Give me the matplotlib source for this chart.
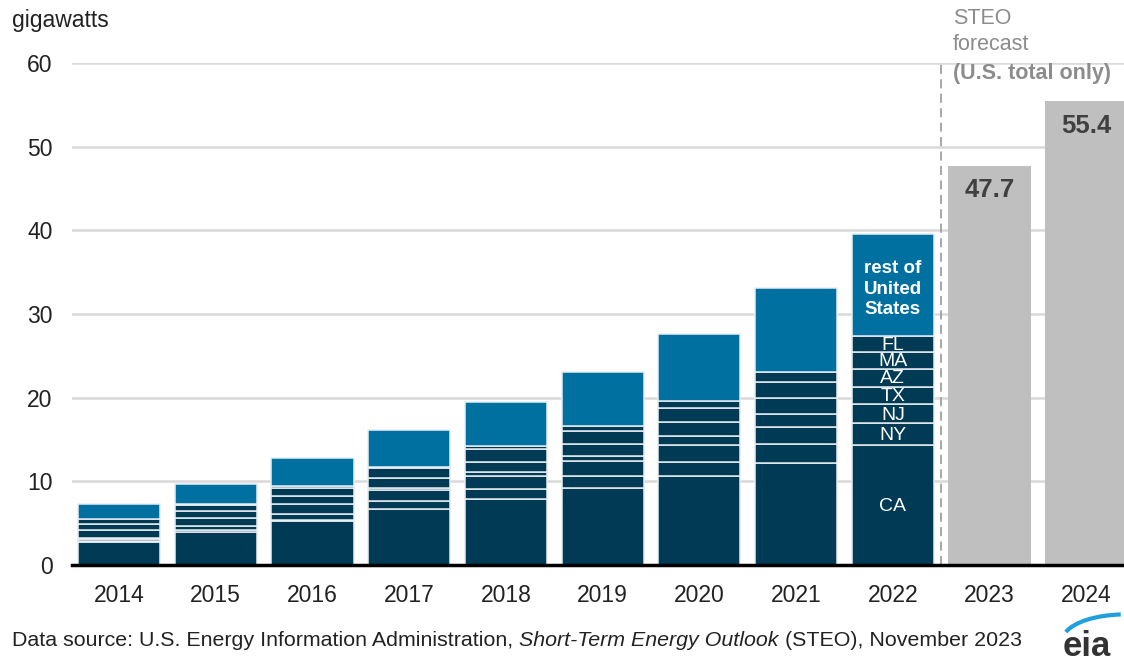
import numpy as np
import matplotlib.pyplot as plt
from matplotlib.patches import Arc

plt.rcParams['font.family'] = ['Liberation Sans', 'DejaVu Sans']

# data (gigawatts)
years = ['2014', '2015', '2016', '2017', '2018', '2019', '2020', '2021', '2022']
states = ['CA', 'NY', 'NJ', 'TX', 'AZ', 'MA', 'FL']
CA = [2.79, 3.94, 5.26, 6.73, 7.93, 9.16, 10.68, 12.23, 14.34]
NY = [0.11, 0.24, 0.12, 0.88, 1.19, 1.52, 1.67, 2.27, 2.59]
NJ = [0.17, 0.48, 0.75, 1.39, 1.56, 1.71, 2.03, 2.03, 2.27]
TX = [0.16, 0.96, 1.16, 0.24, 0.44, 0.68, 1.04, 1.47, 2.11]
AZ = [0.95, 0.80, 0.96, 1.12, 1.23, 1.43, 1.71, 2.00, 2.15]
MA = [0.72, 0.71, 0.99, 1.29, 1.55, 1.55, 1.67, 1.83, 2.04]
FL = [0.64, 0.20, 0.20, 0.10, 0.36, 0.60, 0.76, 1.27, 1.87]
rest = [1.71, 2.35, 3.31, 4.38, 5.18, 6.45, 8.01, 9.97, 12.19]

fc_years = ['2023', '2024']
fc_total = [47.7, 55.4]

dark = '#003a55'
blue = '#0070a0'
grey = '#bfbfbf'
txt = '#222222'

fig = plt.figure(figsize=(11.24, 6.63), dpi=100)
ax = fig.add_axes([72 / 1124, 1 - 565 / 663, 1 - 72 / 1124, (565 - 63) / 663])

x = np.arange(len(years))
w = 0.85
bottom = np.zeros(len(years))
for vals in [CA, NY, NJ, TX, AZ, MA, FL]:
    ax.bar(x, vals, w, bottom=bottom, color=dark, edgecolor='#e8eef2', linewidth=1.1, zorder=3)
    bottom += np.array(vals)
ax.bar(x, rest, w, bottom=bottom, color=blue, edgecolor='#e8eef2', linewidth=1.1, zorder=3)

xf = np.arange(len(years), len(years) + len(fc_years))
ax.bar(xf, fc_total, w, color=grey, zorder=3)
for xi, v in zip(xf, fc_total):
    ax.text(xi, v - 2.9, f'{v}', ha='center', va='center', fontsize=18.5,
            fontweight='bold', color='#404040', zorder=4)

# state labels on the 2022 bar
last = len(years) - 1
cum = 0
for name, vals in zip(states, [CA, NY, NJ, TX, AZ, MA, FL]):
    v = vals[last]
    ax.text(last, cum + v / 2 - 0.15, name, ha='center', va='center', color='white',
            fontsize=14, zorder=4)
    cum += v
ax.text(last, cum + rest[last] / 2 - 0.5, 'rest of\nUnited\nStates', ha='center', va='center',
        color='white', fontsize=13.5, fontweight='bold', linespacing=1.28, zorder=4)

# forecast divider
ax.plot([8.5, 8.5], [0, 60.2], ls=(0, (5, 3)), color='#a0a0a0', lw=1.3, zorder=2, clip_on=False)

ax.set_xlim(-0.486, 10.39)
ax.set_ylim(0, 60)
ax.set_yticks(range(0, 61, 10))
ax.set_xticks(list(x) + list(xf))
ax.set_xticklabels(years + fc_years)
ax.tick_params(axis='both', length=0, labelsize=16.5, colors=txt)
ax.tick_params(axis='y', pad=14)
ax.tick_params(axis='x', pad=14)
ax.grid(axis='y', color='#d9d9d9', lw=1.8, zorder=0)
for s in ['top', 'right', 'left']:
    ax.spines[s].set_visible(False)
ax.spines['bottom'].set_linewidth(2.5)
ax.spines['bottom'].set_color('black')
ax.spines['bottom'].set_zorder(5)

fig.text(12 / 1124, 1 - 20 / 663, 'gigawatts', fontsize=16.5, va='center', ha='left', color=txt)
fig.text(953 / 1124, 1 - 18 / 663, 'STEO', fontsize=15.5, va='center', ha='left', color='#8c8c8c')
fig.text(953 / 1124, 1 - 45 / 663, 'forecast', fontsize=15.5, va='center', ha='left', color='#8c8c8c')
fig.text(953 / 1124, 1 - 73 / 663, '(U.S. total only)', fontsize=15.5, va='center', ha='left',
         color='#8c8c8c', fontweight='bold')

src = fig.text(12 / 1124, 1 - 641 / 663, 'Data source: U.S. Energy Information Administration, ',
               fontsize=15.4, va='center', ha='left', color=txt)
fig.canvas.draw()
bb = src.get_window_extent()
t2 = fig.text(bb.x1 / 1124, 1 - 641 / 663, 'Short-Term Energy Outlook', fontsize=15.4,
              style='italic', va='center', ha='left', color=txt)
fig.canvas.draw()
bb2 = t2.get_window_extent()
fig.text(bb2.x1 / 1124, 1 - 641 / 663, ' (STEO), November 2023', fontsize=15.4,
         va='center', ha='left', color=txt)

# eia logo
fig.text(1087 / 1124, 1 - 646 / 663, 'eia', fontsize=25, ha='center', va='center',
         color='#333333', fontweight='bold')
logo = fig.add_axes([1058 / 1124, 1 - 640 / 663, 64 / 1124, 32 / 663])
logo.axis('off')
logo.add_patch(Arc((1.05, 0.0), 1.95, 1.6, theta1=95, theta2=165, color='#1ea0dc', lw=3))
logo.set_xlim(0, 1)
logo.set_ylim(0, 1)

fig.savefig('out.png', dpi=100)
